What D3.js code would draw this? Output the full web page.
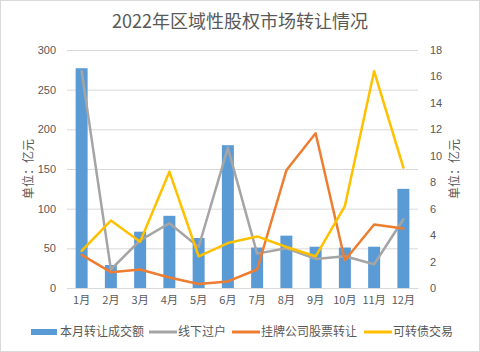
<!DOCTYPE html>
<html>
<head>
<meta charset="utf-8">
<script src="https://cdn.jsdelivr.net/npm/d3@7"></script>
<style>
  body { margin: 0; background: #fff; }
  text { font-family: "Noto Sans CJK SC", "Noto Sans", sans-serif; fill: #595959; }
</style>
</head>
<body>
<div id="chart"></div>
<script>
// data
const months = ['1月','2月','3月','4月','5月','6月','7月','8月','9月','10月','11月','12月'];
const monthlyDeal = [277, 29, 71, 91, 63, 180, 51, 66, 52, 51, 52, 125];   // 本月转让成交额 (left)
const offline = [16.4, 1.4, 3.6, 4.9, 3.1, 10.6, 2.6, 3.0, 2.2, 2.4, 1.8, 5.2]; // 线下过户
const listed = [2.5, 1.2, 1.4, 0.8, 0.3, 0.5, 1.4, 8.9, 11.7, 2.1, 4.8, 4.5];   // 挂牌公司股票转让
const convert = [2.8, 5.1, 3.5, 8.8, 2.4, 3.4, 3.9, 3.1, 2.4, 6.2, 16.4, 9.1]; // 可转债交易
const leftTicks = [0, 50, 100, 150, 200, 250, 300];
const rightTicks = [0, 2, 4, 6, 8, 10, 12, 14, 16, 18];

const lineSeries = [
  {name: '线下过户', values: offline, color: '#A5A5A5'},
  {name: '挂牌公司股票转让', values: listed, color: '#ED7D31'},
  {name: '可转债交易', values: convert, color: '#FFC000'}
];

const W = 480, H = 352;
const margin = {t: 50, r: 62, b: 64, l: 67};
const w = W - margin.l - margin.r;
const h = H - margin.t - margin.b;

const svg = d3.select('#chart').append('svg')
  .attr('width', W)
  .attr('height', H);

svg.append('rect')
  .attr('x', 0.5).attr('y', 0.5)
  .attr('width', W - 1).attr('height', H - 1)
  .attr('fill', '#fff')
  .attr('stroke', '#d9d9d9');

svg.append('text')
  .attr('x', W / 2)
  .attr('y', 28)
  .attr('text-anchor', 'middle')
  .style('font-size', '18px')
  .text('2022年区域性股权市场转让情况');

const plot = svg.append('g')
  .attr('transform', `translate(${margin.l},${margin.t})`);

const scaleX = d3.scaleBand().domain(months).range([0, w]);
const scaleY = d3.scaleLinear().domain([0, 300]).range([h, 0]);
const scaleY2 = d3.scaleLinear().domain([0, 18]).range([h, 0]);

// gridlines
const axisGrid = d3.axisLeft(scaleY).tickValues(leftTicks).tickSize(-w).tickFormat('');
plot.append('g').attr('class', 'grid').call(axisGrid)
  .call(g => g.select('.domain').remove())
  .call(g => g.selectAll('line').attr('stroke', '#d9d9d9'));

// left axis labels
const axisY = d3.axisLeft(scaleY).tickValues(leftTicks).tickSize(0).tickPadding(11);
plot.append('g').call(axisY)
  .call(g => g.select('.domain').remove())
  .call(g => g.selectAll('text').style('font-size', '11px').style('font-family', '"Liberation Sans", sans-serif').attr('fill', '#595959'));

// right axis labels
const axisY2 = d3.axisRight(scaleY2).tickValues(rightTicks).tickSize(0).tickPadding(12);
plot.append('g').attr('transform', `translate(${w},0)`).call(axisY2)
  .call(g => g.select('.domain').remove())
  .call(g => g.selectAll('text').style('font-size', '11px').style('font-family', '"Liberation Sans", sans-serif').attr('fill', '#595959'));

// bottom axis
const axisX = d3.axisBottom(scaleX).tickSize(0).tickPadding(8);
plot.append('g').attr('transform', `translate(0,${h})`).call(axisX)
  .call(g => g.select('.domain').attr('stroke', '#d9d9d9'))
  .call(g => g.selectAll('text').style('font-size', '11px').attr('fill', '#595959'));

// axis titles
svg.append('text')
  .attr('transform', `translate(33,${margin.t + h / 2}) rotate(-90)`)
  .attr('text-anchor', 'middle')
  .style('font-size', '12px')
  .text('单位：亿元');
svg.append('text')
  .attr('transform', `translate(459,${margin.t + h / 2}) rotate(-90)`)
  .attr('text-anchor', 'middle')
  .style('font-size', '12px')
  .text('单位：亿元');

// bars
const barW = scaleX.bandwidth() * 0.41;
plot.selectAll('.bar')
  .data(monthlyDeal)
  .enter()
  .append('rect')
  .attr('class', 'bar')
  .attr('x', (d, i) => scaleX(months[i]) + scaleX.bandwidth() / 2 - barW / 2)
  .attr('y', d => scaleY(d))
  .attr('width', barW)
  .attr('height', d => h - scaleY(d))
  .attr('fill', '#5B9BD5');

// lines
const line = d3.line()
  .x((d, i) => scaleX(months[i]) + scaleX.bandwidth() / 2)
  .y(d => scaleY2(d));

plot.selectAll('.series')
  .data(lineSeries)
  .enter()
  .append('path')
  .attr('class', 'series')
  .attr('d', d => line(d.values))
  .attr('fill', 'none')
  .attr('stroke', d => d.color)
  .attr('stroke-width', 2.5)
  .attr('stroke-linejoin', 'round')
  .attr('stroke-linecap', 'round');

// legend
const legendItems = [
  {name: '本月转让成交额', color: '#5B9BD5', type: 'bar', x: 31},
  {name: '线下过户', color: '#A5A5A5', type: 'line', x: 149},
  {name: '挂牌公司股票转让', color: '#ED7D31', type: 'line', x: 232},
  {name: '可转债交易', color: '#FFC000', type: 'line', x: 364}
];
const legend = svg.append('g').attr('transform', 'translate(0,332)');
const item = legend.selectAll('.item')
  .data(legendItems)
  .enter()
  .append('g')
  .attr('transform', d => `translate(${d.x},0)`);
item.append('rect')
  .attr('x', 0)
  .attr('y', d => d.type === 'bar' ? -3 : -1.5)
  .attr('width', d => d.type === 'bar' ? 26 : 28)
  .attr('height', d => d.type === 'bar' ? 6 : 3)
  .attr('fill', d => d.color);
item.append('text')
  .attr('x', 29)
  .attr('dy', '0.35em')
  .style('font-size', '12px')
  .text(d => d.name);
</script>
</body>
</html>
